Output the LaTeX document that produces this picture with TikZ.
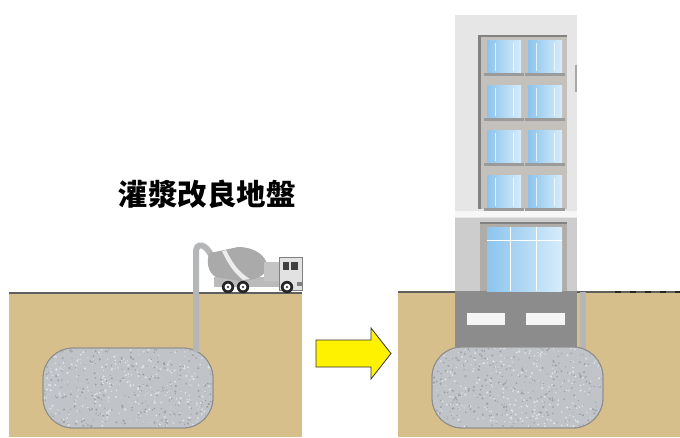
\documentclass[tikz,border=0pt]{standalone}
\usepackage{fontspec}
\newfontfamily\cjk{Noto Sans CJK TC}
\definecolor{soil}{RGB}{215,191,140}
\definecolor{groundline}{RGB}{95,95,95}
\definecolor{grout}{RGB}{192,196,200}
\definecolor{groutdot}{RGB}{158,162,166}
\definecolor{groutlite}{RGB}{224,226,228}
\definecolor{groutedge}{RGB}{140,140,140}
\definecolor{pipegray}{RGB}{180,182,184}
\definecolor{facade}{RGB}{230,230,230}
\definecolor{lowerfacade}{RGB}{205,205,205}
\definecolor{framegray}{RGB}{196,192,188}
\definecolor{framedark}{RGB}{130,130,130}
\definecolor{glassA}{RGB}{140,196,238}
\definecolor{glassB}{RGB}{214,236,250}
\definecolor{found}{RGB}{140,140,140}
\definecolor{truckgray}{RGB}{170,170,170}
\definecolor{cabgray}{RGB}{226,226,226}
\tikzset{
  soilbox/.style={fill=soil},
  gline/.style={draw=groundline, line width=1.6pt},
  groutbody/.style={fill=grout, draw=groutedge, line width=0.8pt, rounded corners=30pt},
  grpipe/.style={draw=pipegray, line width=6pt},
  glass/.style={left color=glassA, right color=glassB},
  mullion/.style={draw=white, line width=0.8pt},
  wheel/.style={fill=black!85},
}
% speckled grout inside a rectangle: #1,#2 = corner, #3 = width, #4 = seed
\newcommand\groutspeckle[4]{%
  \pgfmathsetseed{#4}%
  \foreach \k in {1,...,650}{%
    \pgfmathsetmacro\px{#1+#3*rnd}%
    \pgfmathsetmacro\py{#2+80*rnd}%
    \pgfmathsetmacro\pr{0.45+0.8*rnd}%
    \pgfmathparse{rnd>0.5?"groutdot":"groutlite"}%
    \fill[\pgfmathresult] (\px,\py) circle[radius=\pr pt];
  }%
}
\begin{document}
\begin{tikzpicture}[x=1pt,y=-1pt]
\useasboundingbox (0,0) rectangle (680,437);
\fill[white] (0,0) rectangle (680,437);

% ---------- left: grouting ----------
\fill[soilbox] (9,293) rectangle (302,437);
\draw[gline] (9,293) -- (302,293);
\draw[grpipe] (196,349) -- (196,252) .. controls (196,242) and (206,243) .. (212,257);
\filldraw[groutbody] (43,348) rectangle (213,428);
\begin{scope}
  \clip[rounded corners=30pt] (44,349) rectangle (212,427);
  \groutspeckle{43}{348}{170}{11}
\end{scope}
\draw[groutedge, line width=0.8pt, rounded corners=30pt] (43,348) rectangle (213,428);
\fill[pipegray] (193,348) rectangle (199,352);

% mixer truck
\fill[truckgray!80] (214,277) rectangle (281,287);
\fill[truckgray] (210,253) -- (238,247) .. controls (256,247) and (267,257) .. (267,266)
  .. controls (267,275) and (256,281) .. (240,281) -- (216,277)
  .. controls (207,273) and (206,258) .. cycle;
\fill[white!85!gray] (226,250) .. controls (232,262) and (238,272) .. (250,279)
  -- (243,280) .. controls (233,272) and (227,262) .. (222,251) -- cycle;
\fill[truckgray!70] (264,262) rectangle (279,281);
\fill[cabgray] (279,257) rectangle (302,290);
\draw[gray, line width=0.6pt] (279,257) rectangle (302,290);
\fill[black!75] (283,262) rectangle (289,270);
\fill[black!75] (291,262) rectangle (298,270);
\fill[gray] (297,282) rectangle (303,286);
\foreach \wx in {228,243,287}{
  \fill[wheel] (\wx,287) circle[radius=6.2pt];
  \fill[white] (\wx,287) circle[radius=3.4pt];
  \fill[black!70] (\wx,287) circle[radius=1.4pt];
}

\node[font=\cjk\bfseries\fontsize{29.5}{29.5}\selectfont, inner sep=0pt] (title) at (207,194) {灌漿改良地盤};

% ---------- arrow ----------
\filldraw[fill=yellow, draw=black!80, line width=0.8pt, line join=miter]
  (316,340) -- (371,340) -- (371,328) -- (391,353.5) -- (371,379) -- (371,367) -- (316,367) -- cycle;

% ---------- right: building on improved ground ----------
\fill[soilbox] (398,292) rectangle (680,437);
\draw[gline] (398,292) -- (680,292);
\foreach \dx in {615,630,645,660,675}{
  \draw[black!85, line width=1.6pt] (\dx,292) -- (\dx+6,292);
}
\draw[grpipe] (583,292) -- (583,349);
\filldraw[groutbody] (432,347) rectangle (603,428);
\begin{scope}
  \clip[rounded corners=30pt] (433,348) rectangle (602,427);
  \groutspeckle{432}{347}{171}{23}
\end{scope}
\draw[groutedge, line width=0.8pt, rounded corners=30pt] (432,347) rectangle (603,428);

% foundation
\fill[found] (455,291) rectangle (577,347);
\fill[white!92!gray] (467,313) rectangle (505,325);
\fill[white!92!gray] (526,313) rectangle (565,325);

% facade
\fill[facade] (455,15) rectangle (577,218);
\fill[lowerfacade] (455,218) rectangle (577,291);
\fill[white!94!gray] (455,211) rectangle (577,217);
\fill[framedark!70] (575,65) rectangle (577,92);

% upper window block
\fill[framegray] (478,35) rectangle (567,209);
\fill[framedark] (478,35) rectangle (567,37);
\fill[framedark] (478,35) rectangle (481,209);
\foreach \ry in {40,85,130,175}{
  \foreach \cx in {487,528}{
    \shade[glass] (\cx,\ry) rectangle (\cx+34,\ry+32);
    \draw[white, line width=0.5pt, opacity=0.7] (\cx+8,\ry+3) -- (\cx+8,\ry+31)
      (\cx+26,\ry+3) -- (\cx+26,\ry+31);
    \fill[framedark!80] (\cx-3,\ry+33) rectangle (\cx+37,\ry+36);
  }
}

% ground floor window
\fill[framegray!90!black] (480,222) rectangle (567,291);
\fill[framedark] (480,222) rectangle (567,224);
\shade[glass] (487,227) rectangle (562,291);
\draw[mullion] (510,227) -- (510,291) (536,227) -- (536,291) (487,240) -- (562,240);
\end{tikzpicture}
\end{document}
